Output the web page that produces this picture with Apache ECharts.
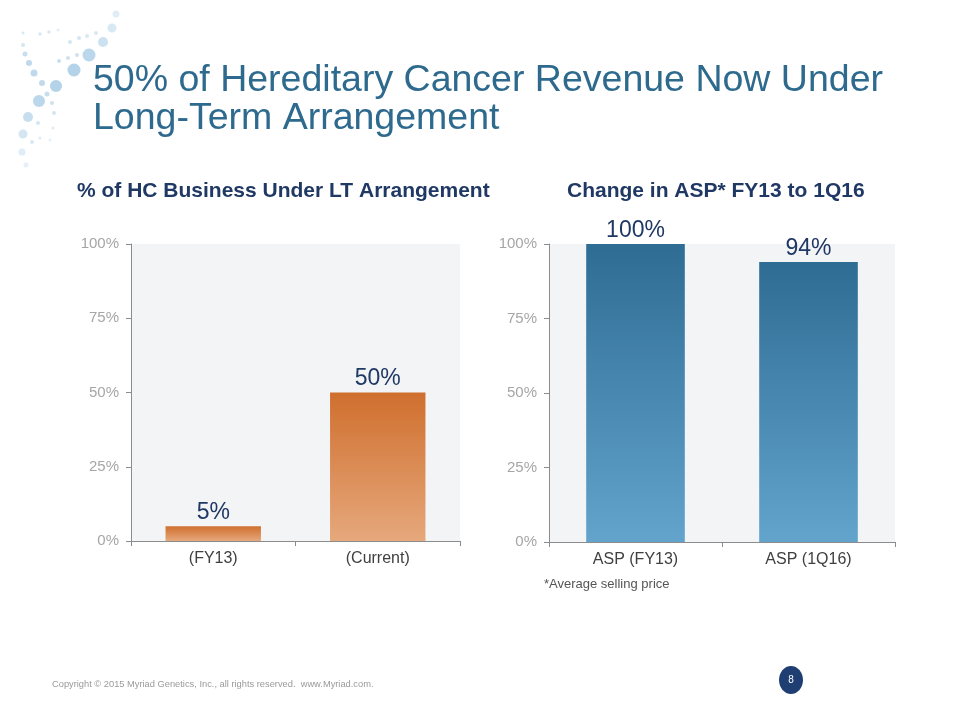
<!DOCTYPE html>
<html><head><meta charset="utf-8">
<script src="https://cdn.jsdelivr.net/npm/echarts@6/dist/echarts.min.js"></script>
<style>html,body{margin:0;padding:0;background:#fff}#c{width:960px;height:720px}</style>
</head><body><div id="c"></div>
<script>
const leftCategories = ['(FY13)', '(Current)'];
const leftValues = [5, 50];
const rightCategories = ['ASP (FY13)', 'ASP (1Q16)'];
const rightValues = [100, 94];
const yTicks = [0, 25, 50, 75, 100];

const chart = echarts.init(document.getElementById('c'));
const F = 'Liberation Sans, Arial, sans-serif';

const dots = [
  [89,55,6.5,0.55],[74,70,6.5,0.6],[56,86,6,0.6],[39,101,6,0.55],[28,117,5,0.45],[23,134,4.5,0.35],
  [22,152,3.5,0.25],[26,165,2.5,0.2],
  [103,42,5,0.4],[112,28,4.5,0.3],[116,14,3.5,0.25],
  [59,61,2,0.45],[68,58,2,0.4],[77,55,2,0.4],
  [70,42,2,0.35],[79,38,2,0.35],[87,36,2,0.3],[96,33,2,0.3],
  [40,34,1.8,0.3],[49,32,1.8,0.3],[58,30,1.5,0.25],
  [23,33,1.5,0.3],[23,45,2,0.35],[25,54,2.5,0.45],[29,63,3,0.5],[34,73,3.5,0.5],[42,83,3,0.5],
  [47,94,2.5,0.45],[52,103,2,0.4],[54,113,2,0.35],[38,123,2,0.35],[32,142,2,0.3],[40,138,1.5,0.25],
  [53,128,1.5,0.25],[50,140,1.5,0.2]
];
const dotGraphics = dots.map(d => ({
  type: 'circle', shape: {cx: d[0], cy: d[1], r: d[2]},
  style: {fill: 'rgba(130,182,218,' + d[3] + ')'}, silent: true
}));

function grad(top, bottom) {
  return {type: 'linear', x: 0, y: 0, x2: 0, y2: 1, colorStops: [{offset: 0, color: top}, {offset: 1, color: bottom}]};
}

const axisStyle = {
  axisLine: {show: true, lineStyle: {color: '#8c8c8c', width: 1}},
  axisTick: {show: true, length: 5, lineStyle: {color: '#8c8c8c'}}
};

chart.setOption({
  backgroundColor: '#ffffff',
  animation: false,
  grid: [
    {left: 131, right: 500, top: 244, bottom: 179, show: true, backgroundColor: '#f3f4f6', borderWidth: 0},
    {left: 549, right: 65, top: 244, bottom: 178, show: true, backgroundColor: '#f3f4f6', borderWidth: 0}
  ],
  xAxis: [
    Object.assign({type: 'category', gridIndex: 0, data: leftCategories,
      axisLabel: {color: '#404040', fontSize: 16, fontFamily: F, margin: 10}}, axisStyle),
    Object.assign({type: 'category', gridIndex: 1, data: rightCategories,
      axisLabel: {color: '#404040', fontSize: 16, fontFamily: F, margin: 10}}, axisStyle)
  ],
  yAxis: [0, 1].map(i => Object.assign({
    type: 'value', gridIndex: i, min: yTicks[0], max: yTicks[yTicks.length - 1], interval: 25,
    splitLine: {show: false},
    axisLabel: {color: '#a6a6a6', fontSize: 15, fontFamily: F, margin: 12, formatter: '{value}%'}
  }, axisStyle)),
  series: [
    {type: 'bar', xAxisIndex: 0, yAxisIndex: 0, data: leftValues, barWidth: '58%',
      itemStyle: {color: grad('#cf6f2e', '#e6a87c')},
      label: {show: true, position: 'top', distance: 2, color: '#1f3864', fontSize: 23, fontFamily: F, formatter: '{c}%'}},
    {type: 'bar', xAxisIndex: 1, yAxisIndex: 1, data: rightValues, barWidth: '57%',
      itemStyle: {color: grad('#2f6c94', '#62a4cc')},
      label: {show: true, position: 'top', distance: 2, color: '#1f3864', fontSize: 23, fontFamily: F, formatter: '{c}%'}}
  ],
  graphic: dotGraphics.concat([
    {type: 'text', left: 93, top: 62, style: {text: '50% of Hereditary Cancer Revenue Now Under\nLong-Term Arrangement',
      fill: '#2e6a8e', font: '37.5px ' + F, lineHeight: 38}},
    {type: 'text', left: 77, top: 181, style: {text: '% of HC Business Under LT Arrangement',
      fill: '#1f3864', font: 'bold 21px ' + F}},
    {type: 'text', left: 567, top: 181, style: {text: 'Change in ASP* FY13 to 1Q16',
      fill: '#1f3864', font: 'bold 21px ' + F}},
    {type: 'text', left: 544, top: 578, style: {text: '*Average selling price', fill: '#555555', font: '13px ' + F}},
    {type: 'text', left: 52, top: 680, style: {text: 'Copyright \u00a9 2015 Myriad Genetics, Inc., all rights reserved.  www.Myriad.com.',
      fill: '#9a9a9a', font: '9.3px ' + F}},
    {type: 'ellipse', shape: {cx: 791, cy: 680, rx: 12, ry: 14}, style: {fill: '#1f3f73'}},
    {type: 'text', x: 791, y: 680, style: {text: '8', fill: '#ffffff', font: '10px ' + F, align: 'center', verticalAlign: 'middle'}}
  ])
});
</script></body></html>
